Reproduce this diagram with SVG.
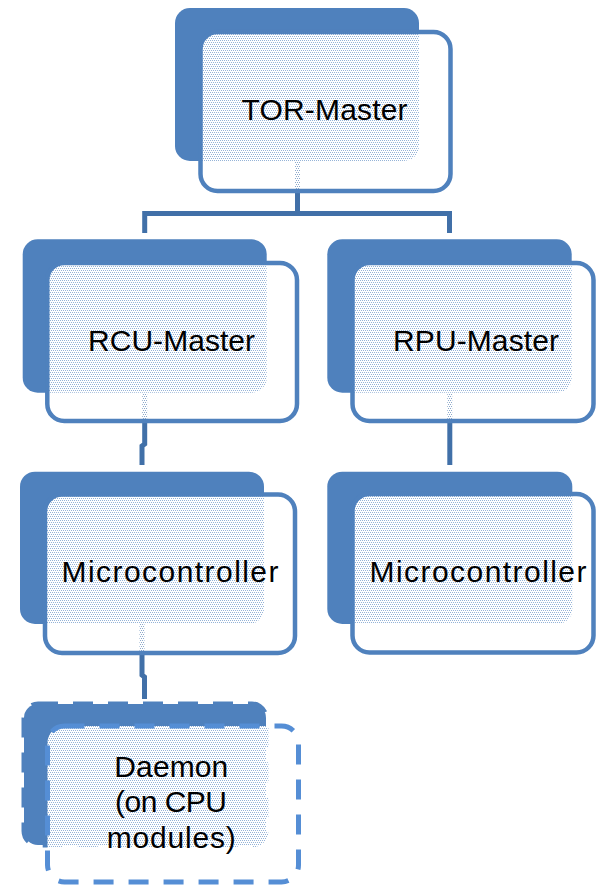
<svg xmlns="http://www.w3.org/2000/svg" width="596" height="885" viewBox="0 0 596 885">
<style>
.back{fill:#4F81BD;}
.front{fill:url(#dots);stroke:#4F81BD;stroke-width:4.5;}
.conn{fill:none;stroke:#4170A8;stroke-width:5;}
.lbl{font-family:"Liberation Sans",Arial,sans-serif;font-size:30px;fill:#000;text-anchor:middle;}
.dback{fill:#4F81BD;stroke:#4F81BD;stroke-width:5;stroke-dasharray:20 15;}
.dfront{fill:url(#dots);stroke:#558ED5;stroke-width:5;stroke-dasharray:20 15;}
</style>
<defs>
<pattern id="dots" width="4" height="4" patternUnits="userSpaceOnUse">
<path d="M0 0h4v4H0z M0 0h1v1H0z M2 0h1v1H2z M1 2h1v1H1z M3 2h1v1H3z" fill="#fff" fill-rule="evenodd"/>
<path d="M0 0h1v1H0z M2 0h1v1H2z M1 2h1v1H1z M3 2h1v1H3z" fill="#fff" fill-opacity="0.4"/>
</pattern>
</defs>
<rect width="596" height="885" fill="#fff"/>
<g id="connectors">
<path class="conn" d="M297.5 161 V213.5"/>
<path class="conn" d="M144.7 233 V213.5 H449.5 V233"/>
<path class="conn" d="M144.7 393 V444 L142 446 V465"/>
<path class="conn" d="M449.8 393 V465"/>
<path class="conn" d="M142 624 V675 L144.5 677 V699"/>
</g>
<g id="tor-master">
<rect class="back" x="175" y="8" width="244" height="153" rx="15"/>
<rect class="front" x="200.5" y="32" width="250" height="159" rx="17"/>
<text class="lbl" x="324.5" y="120" textLength="166">TOR-Master</text>
</g>
<g id="rcu-master">
<rect class="back" x="22.7" y="239.3" width="244" height="153.4" rx="15"/>
<rect class="front" x="47.3" y="263" width="249.7" height="158" rx="17"/>
<text class="lbl" x="171.5" y="351" textLength="167">RCU-Master</text>
</g>
<g id="rpu-master">
<rect class="back" x="327.3" y="239.3" width="244.4" height="153.4" rx="15"/>
<rect class="front" x="352.5" y="263" width="241" height="158" rx="17"/>
<text class="lbl" x="476" y="351" textLength="166">RPU-Master</text>
</g>
<g id="microcontroller-left">
<rect class="back" x="20" y="471.7" width="244" height="152.3" rx="15"/>
<rect class="front" x="45" y="494.5" width="250" height="158.5" rx="17"/>
<text class="lbl" x="170" y="582" textLength="217">Microcontroller</text>
</g>
<g id="microcontroller-right">
<rect class="back" x="327.3" y="471.7" width="245" height="152.3" rx="15"/>
<rect class="front" x="352.5" y="494" width="241" height="158.5" rx="17"/>
<text class="lbl" x="478" y="582" textLength="217">Microcontroller</text>
</g>
<g id="daemon">
<rect class="dback" x="24" y="704" width="242" height="141" rx="14"/>
<rect class="dfront" x="47.5" y="726" width="251" height="156" rx="17"/>
<text class="lbl" x="171.3" y="777" textLength="114">Daemon</text>
<text class="lbl" x="171" y="812" textLength="112">(on CPU</text>
<text class="lbl" x="171.2" y="848" textLength="129">modules)</text>
</g>
</svg>
